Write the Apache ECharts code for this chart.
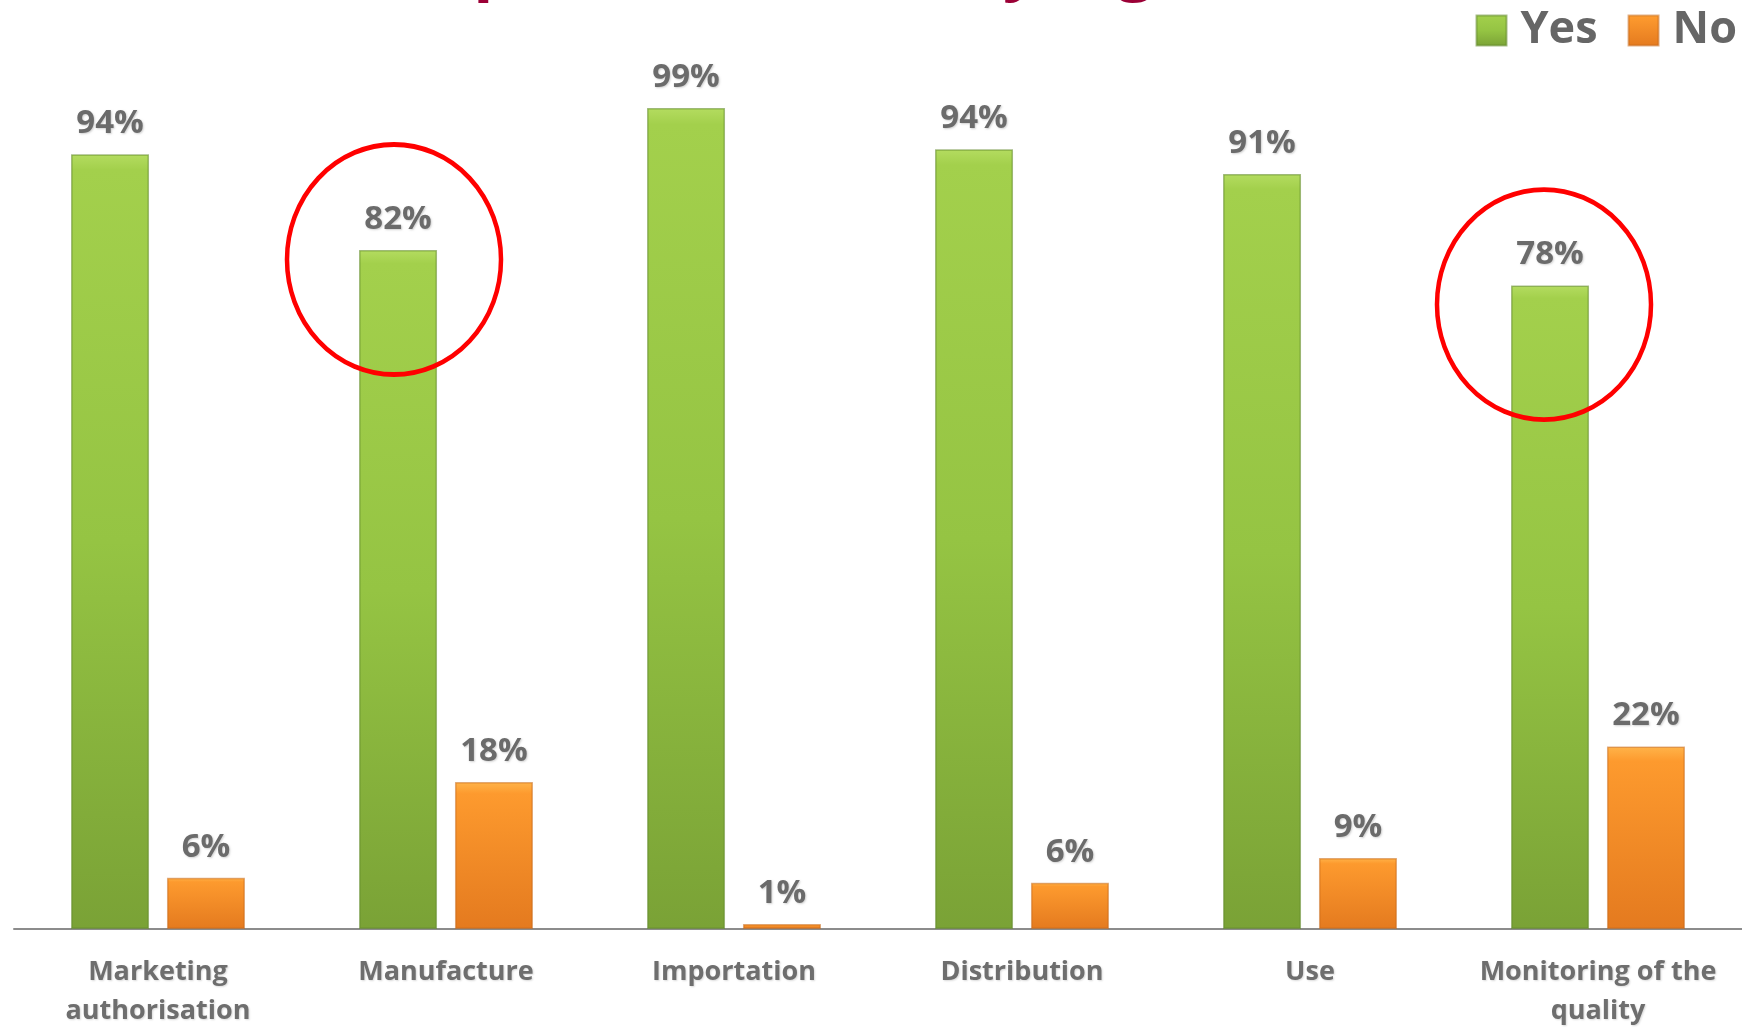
<!DOCTYPE html>
<html><head><meta charset="utf-8">
<script src="https://cdn.jsdelivr.net/npm/echarts@6/dist/echarts.min.js"></script>
<style>html,body{margin:0;padding:0;background:#fff}#c{width:1742px;height:1031px}</style>
</head><body><div id="c"></div>
<script>
const categories = ['Marketing\nauthorisation', 'Manufacture', 'Importation', 'Distribution', 'Use', 'Monitoring of the\nquality'];
const yesValues = [93.8, 82.2, 99.4, 94.4, 91.4, 77.9];
const noValues = [6.2, 17.8, 0.6, 5.6, 8.6, 22.1];
const seriesNames = ['Yes', 'No'];
const titleText = 'Scope of the country legislation';
const highlightedCategories = [1, 5];

const chart = echarts.init(document.getElementById('c'), null, {renderer: 'canvas'});

const greenFill = new echarts.graphic.LinearGradient(0, 0, 0, 1, [
  {offset: 0, color: '#b4dc60'},
  {offset: 0.02, color: '#a3d04c'},
  {offset: 0.5, color: '#95c443'},
  {offset: 1, color: '#7aa236'}
]);
const orangeFill = new echarts.graphic.LinearGradient(0, 0, 0, 1, [
  {offset: 0, color: '#ffb44a'},
  {offset: 0.08, color: '#fd9a2e'},
  {offset: 1, color: '#e47a1f'}
]);

const labelStyle = {
  show: true,
  position: 'top',
  distance: 14,
  formatter: p => Math.round(p.value) + '%',
  color: '#6b6b6b',
  fontFamily: 'Open Sans',
  fontWeight: 'bold',
  fontSize: 33,
  textShadowColor: 'rgba(0,0,0,0.18)',
  textShadowBlur: 2,
  textShadowOffsetX: 1,
  textShadowOffsetY: 1
};

chart.setOption({
  backgroundColor: '#ffffff',
  animation: false,
  legend: {
    data: seriesNames,
    right: 0,
    top: 3,
    itemWidth: 30,
    itemHeight: 30,
    itemGap: 30,
    icon: 'rect',
    textStyle: {color: '#666666', fontFamily: 'Open Sans', fontWeight: 'bold', fontSize: 45, padding: [0, 0, 0, 9]}
  },
  grid: {left: 14, right: -6, top: 103, bottom: 97, containLabel: false},
  xAxis: {
    type: 'category',
    data: categories,
    axisLine: {show: true, lineStyle: {color: '#8c8c8c', width: 2}},
    axisTick: {show: false},
    axisLabel: {
      margin: 24,
      color: '#6e6e6e',
      fontFamily: 'Open Sans',
      fontWeight: 'bold',
      fontSize: 27,
      lineHeight: 39,
      interval: 0,
      textShadowColor: 'rgba(0,0,0,0.15)',
      textShadowBlur: 2,
      textShadowOffsetX: 1,
      textShadowOffsetY: 1
    }
  },
  yAxis: {type: 'value', min: 0, max: 100, show: false, splitLine: {show: false}},
  series: [
    {name: seriesNames[0], type: 'bar', data: yesValues, barWidth: 78, barGap: '23%',
     itemStyle: {color: greenFill, borderColor: 'rgba(95,135,40,0.55)', borderWidth: 1.5}, label: labelStyle},
    {name: seriesNames[1], type: 'bar', data: noValues, barWidth: 78,
     itemStyle: {color: orangeFill, borderColor: 'rgba(195,100,20,0.5)', borderWidth: 1.5}, label: labelStyle}
  ]
});

// red annotation rings around the highlighted "Yes" bars (offset from the category centre / bar top)
const ringOffsets = [[-52, 9.5], [-54, 19]];
const graphics = [{
  type: 'text', left: 362, top: -65, z: 10,
  style: {text: titleText, fill: '#9b0036', font: 'bold 66px "Open Sans"'}
}];
highlightedCategories.forEach((i, k) => {
  const pt = chart.convertToPixel({seriesIndex: 0}, [i, yesValues[i]]);
  graphics.push({
    type: 'circle', z: 20,
    x: pt[0] + ringOffsets[k][0], y: pt[1] + ringOffsets[k][1],
    scaleY: 115 / 107,
    shape: {cx: 0, cy: 0, r: 107},
    style: {fill: 'none', stroke: '#ff0000', lineWidth: 4.5}
  });
});
chart.setOption({graphic: graphics});
</script></body></html>
